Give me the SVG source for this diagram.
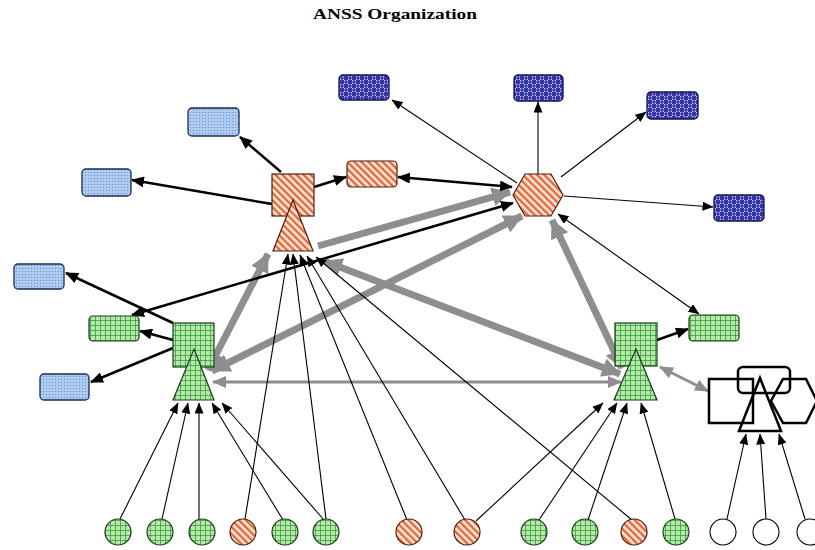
<svg xmlns="http://www.w3.org/2000/svg" width="815" height="550" viewBox="0 0 815 550">
<defs>
<pattern id="pOr" width="5" height="5" patternUnits="userSpaceOnUse" patternTransform="rotate(-45)">
<rect width="5" height="5" fill="#fce4d2"/>
<rect width="2.3" height="5" fill="#e0683e"/>
</pattern>
<pattern id="pGr" width="5" height="5" patternUnits="userSpaceOnUse">
<rect width="5" height="5" fill="#b4eaa8"/>
<path d="M0,0.4 H5 M0.4,0 V5" stroke="#3f9a3f" stroke-width="0.9"/>
</pattern>
<pattern id="pLb" width="3" height="3" patternUnits="userSpaceOnUse">
<rect width="3" height="3" fill="#b2cff2"/>
<circle cx="1.5" cy="1.5" r="0.8" fill="#7499d4"/>
</pattern>
<pattern id="pDb" width="8" height="8" patternUnits="userSpaceOnUse">
<rect width="8" height="8" fill="#3434a6"/>
<rect width="4" height="4" fill="#ffffff"/>
<rect x="4" y="4" width="4" height="4" fill="#ffffff"/>
<circle cx="2" cy="2" r="1.9" fill="#3a3ab0"/>
<circle cx="6" cy="6" r="1.9" fill="#3a3ab0"/>
</pattern>
<marker id="ak" markerUnits="userSpaceOnUse" markerWidth="13" markerHeight="11" refX="12" refY="5.5" orient="auto-start-reverse">
<path d="M0,0 L13,5.5 L0,11 z" fill="#000"/>
</marker>
<marker id="at" markerUnits="userSpaceOnUse" markerWidth="11" markerHeight="9" refX="10.5" refY="4.5" orient="auto-start-reverse">
<path d="M0,0 L11,4.5 L0,9 z" fill="#000"/>
</marker>
<marker id="ag" markerUnits="userSpaceOnUse" markerWidth="19" markerHeight="19" refX="18" refY="9.5" orient="auto-start-reverse">
<path d="M0,0 L19,9.5 L0,19 z" fill="#8e8e8e"/>
</marker>
<marker id="agm" markerUnits="userSpaceOnUse" markerWidth="14" markerHeight="12" refX="13" refY="6" orient="auto-start-reverse">
<path d="M0,0 L14,6 L0,12 z" fill="#8e8e8e"/>
</marker>
</defs>
<style>
.ck{stroke:#000;stroke-width:2.5;fill:none;marker-end:url(#ak)}
.ckd{marker-start:url(#ak)}
.ct{stroke:#000;stroke-width:1.1;fill:none;marker-end:url(#at)}
.ctd{marker-start:url(#at)}
.cg{stroke:#8e8e8e;stroke-width:7;fill:none;marker-end:url(#ag)}
.cgd{marker-start:url(#ag)}
.cgm{stroke:#8e8e8e;stroke-width:3;fill:none;marker-end:url(#agm);marker-start:url(#agm)}
.or{fill:url(#pOr);stroke:#4a2010;stroke-width:1.2}
.gr{fill:url(#pGr);stroke:#1c3a1c;stroke-width:1.2}
.lb{fill:url(#pLb);stroke:#1c2a50;stroke-width:1.3}
.db{fill:url(#pDb);stroke:#101050;stroke-width:1.3}
.wh{fill:none;stroke:#000;stroke-width:2.5}
.wc{fill:#fff;stroke:#000;stroke-width:1.1}
.title{font-family:"Liberation Serif","Times New Roman",serif;font-weight:bold;font-size:15px;fill:#000}
</style>
<rect width="815" height="550" fill="#fff"/>
<text class="title" x="313" y="19" textLength="164" lengthAdjust="spacingAndGlyphs">ANSS Organization</text>

<g id="connectors">
<!-- gray thick -->
<line class="cg cgd" x1="268" y1="254" x2="208" y2="370"/>
<line class="cg" x1="318" y1="246" x2="510" y2="192"/>
<line class="cg cgd" x1="212" y1="371" x2="522" y2="216"/>
<line class="cg cgd" x1="324" y1="261" x2="620" y2="374"/>
<line class="cg cgd" x1="622" y1="368" x2="552" y2="220"/>
<line class="cgm" x1="213" y1="382" x2="621" y2="382"/>
<line class="cgm" x1="660" y1="367" x2="708" y2="391"/>
<!-- black thick -->
<line class="ck" x1="281" y1="172" x2="240" y2="137"/>
<line class="ck" x1="272" y1="204" x2="132" y2="180"/>
<line class="ck" x1="314" y1="187" x2="346" y2="177"/>
<line class="ck ckd" x1="398" y1="177" x2="512" y2="187"/>
<line class="ck ckd" x1="132" y1="315" x2="513" y2="203"/>
<line class="ck" x1="173" y1="323" x2="66" y2="273"/>
<line class="ck" x1="173" y1="340" x2="140" y2="331"/>
<line class="ck" x1="173" y1="348" x2="91" y2="382"/>
<line class="ck" x1="657" y1="340" x2="688" y2="329"/>
<!-- black thin from hex -->
<line class="ct" x1="517" y1="183" x2="392" y2="100"/>
<line class="ct" x1="538" y1="174" x2="538" y2="102"/>
<line class="ct" x1="561" y1="177" x2="646" y2="112"/>
<line class="ct" x1="564" y1="196" x2="713" y2="207"/>
<line class="ct ctd" x1="558" y1="214" x2="699" y2="314"/>
<!-- bottom feeds -->
<line class="ct" x1="120" y1="519" x2="178" y2="403"/>
<line class="ct" x1="162" y1="519" x2="188" y2="403"/>
<line class="ct" x1="199" y1="519" x2="199" y2="403"/>
<line class="ct" x1="283" y1="520" x2="212" y2="403"/>
<line class="ct" x1="324" y1="520" x2="222" y2="403"/>
<line class="ct" x1="245" y1="519" x2="288" y2="254"/>
<line class="ct" x1="326" y1="519" x2="293" y2="254"/>
<line class="ct" x1="407" y1="520" x2="300" y2="255"/>
<line class="ct" x1="465" y1="520" x2="307" y2="256"/>
<line class="ct" x1="632" y1="520" x2="316" y2="257"/>
<line class="ct" x1="476" y1="521" x2="603" y2="403"/>
<line class="ct" x1="539" y1="520" x2="617" y2="403"/>
<line class="ct" x1="588" y1="520" x2="627" y2="403"/>
<line class="ct" x1="675" y1="519" x2="641" y2="403"/>
<line class="ct" x1="727" y1="519" x2="746" y2="434"/>
<line class="ct" x1="766" y1="519" x2="760" y2="434"/>
<line class="ct" x1="805" y1="519" x2="779" y2="434"/>
</g>

<g id="national-hub"><polygon class="or" points="525,174 551,174 563,195 551,216 525,216 513,195"/></g>
<g id="national-db1"><rect class="db" x="339" y="75" width="50" height="25" rx="4"/></g>
<g id="national-db2"><rect class="db" x="514" y="75" width="49" height="26" rx="4"/></g>
<g id="national-db3"><rect class="db" x="647" y="92" width="51" height="27" rx="4"/></g>
<g id="national-db4"><rect class="db" x="714" y="195" width="50" height="26" rx="4"/></g>

<g id="regional-center">
<rect class="or" x="272" y="174" width="42" height="42"/>
<polygon class="or" points="293,200 313,251 273,251"/>
</g>
<g id="regional-db"><rect class="or" x="347" y="161" width="50" height="26" rx="4"/></g>
<g id="user-1"><rect class="lb" x="188" y="108" width="51" height="28" rx="4"/></g>
<g id="user-2"><rect class="lb" x="82" y="169" width="49" height="27" rx="4"/></g>

<g id="left-center">
<rect class="gr" x="173" y="323" width="41" height="44"/>
<polygon class="gr" points="194,349 214,400 173,400"/>
</g>
<g id="left-db"><rect class="gr" x="89" y="316" width="50" height="25" rx="4"/></g>
<g id="user-3"><rect class="lb" x="14" y="264" width="50" height="25" rx="4"/></g>
<g id="user-4"><rect class="lb" x="40" y="374" width="49" height="26" rx="4"/></g>

<g id="right-center">
<rect class="gr" x="615" y="323" width="42" height="43"/>
<polygon class="gr" points="636,349 657,400 614,400"/>
</g>
<g id="right-db"><rect class="gr" x="689" y="315" width="50" height="26" rx="4"/></g>

<g id="future-center">
<rect class="wh" x="709" y="379" width="44" height="44"/>
<rect class="wh" x="738" y="367" width="52" height="26" rx="5"/>
<polygon class="wh" points="783,379 806,379 817,401 806,423 783,423 771,401"/>
<polygon class="wh" points="760,378 781,431 739,431"/>
</g>

<g id="stations">
<circle class="gr" cx="118" cy="532" r="13"/>
<circle class="gr" cx="160" cy="532" r="13"/>
<circle class="gr" cx="202" cy="532" r="13"/>
<circle class="or" cx="243" cy="532" r="13"/>
<circle class="gr" cx="285" cy="532" r="13"/>
<circle class="gr" cx="326" cy="532" r="13"/>
<circle class="or" cx="409" cy="532" r="13"/>
<circle class="or" cx="467" cy="532" r="13"/>
<circle class="gr" cx="534" cy="532" r="13"/>
<circle class="gr" cx="585" cy="532" r="13"/>
<circle class="or" cx="634" cy="532" r="13"/>
<circle class="gr" cx="676" cy="532" r="13"/>
<circle class="wc" cx="723" cy="532" r="13"/>
<circle class="wc" cx="766" cy="532" r="13"/>
<circle class="wc" cx="810" cy="532" r="13"/>
</g>
</svg>
